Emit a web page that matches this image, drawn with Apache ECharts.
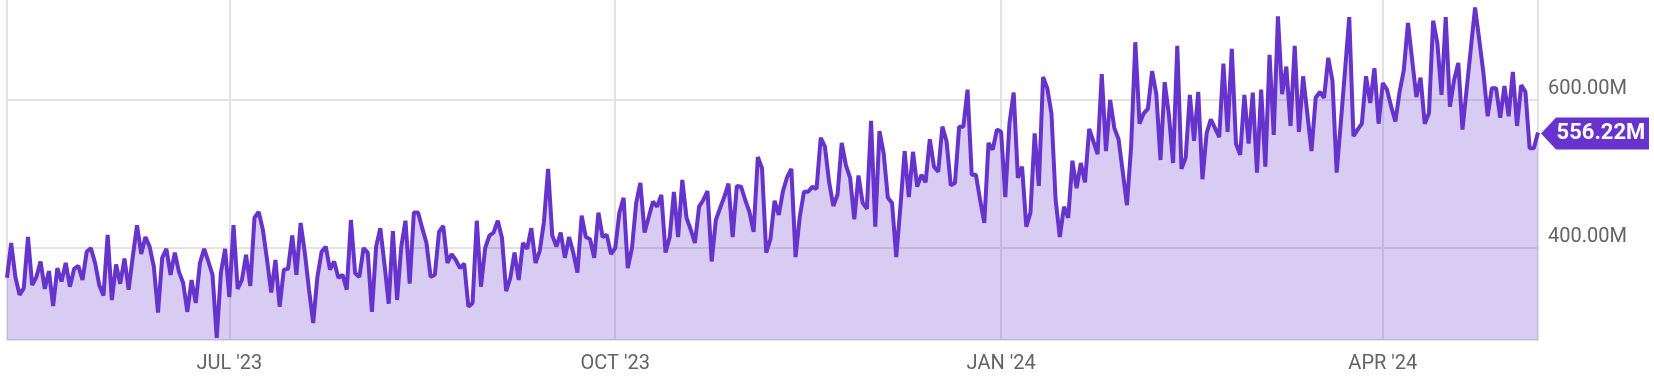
<!DOCTYPE html>
<html>
<head>
<meta charset="utf-8">
<script src="https://cdn.jsdelivr.net/npm/echarts@6/dist/echarts.min.js"></script>
<style>
html,body{margin:0;padding:0;background:#fff;}
#chart{width:1654px;height:382px;}
</style>
</head>
<body>
<div id="chart"></div>
<script>
// Daily values (millions), first day 2023-05-09
const startDate = '2023-05-09';
const vals2023MayJun = [360,407,361,337,346,415,350,361,382,345,369,322,373,355,380,348,372,376,357,395,400,380,350,336,418,330,378,352,386,344,389,431,392,415,402,375,313,387,399,364,394,368,353,314,357,326,380,399,382,364,279,367,399];
const vals2023Q3 = [334,431,345,357,391,349,441,449,425,384,340,384,321,371,372,417,364,434,394,344,299,361,395,402,371,382,360,364,344,438,366,361,400,394,314,402,427,378,325,423,330,402,437,352,448,448,427,407,361,364,422,430,380,392,384,373,379,321,326,437,348,400,417,421,437,414,342,360,394,357,407,399,427,380,396,435,507,417,402,421,387,415,394,367,444,415,412,387,448,415,418,392];
const vals2023Q4 = [400,448,468,373,400,461,488,421,442,463,456,472,394,415,476,415,492,441,425,407,456,465,477,382,438,454,469,487,415,484,483,465,449,422,523,508,394,412,464,445,477,496,507,388,442,476,476,483,480,549,537,489,457,472,542,512,495,439,498,461,453,572,429,558,528,468,461,388,456,531,469,530,483,499,489,547,510,503,564,544,485,488,564,564,614,499,499,465,434,542,533,560];
const vals2024Q1 = [557,469,569,610,495,510,429,448,555,484,631,616,582,465,415,456,441,518,481,515,489,561,544,527,635,531,600,562,547,503,458,537,678,568,582,588,639,608,519,624,580,515,673,507,522,607,545,611,493,555,574,562,550,649,557,669,541,526,607,541,610,502,614,510,661,553,713,608,645,565,673,557,632,582,531,603,611,603,657,626,502,570,640,712,551,560,568,632,596,643,568];
const vals2024AprMay = [623,614,591,571,611,640,704,654,604,630,568,582,707,677,607,712,591,627,650,560,615,670,725,681,636,578,616,616,576,619,578,638,565,620,611,535,535,556.22];

const tickDates = ['2023-07-01','2023-10-01','2024-01-01','2024-04-01'];
const tickLabels = ["JUL '23","OCT '23","JAN '24","APR '24"];
const yTickValues = [400, 600];

const values = [].concat(vals2023MayJun, vals2023Q3, vals2023Q4, vals2024Q1, vals2024AprMay);
const categories = [];
(function(){
  const d0 = new Date(startDate + 'T00:00:00Z');
  for (let i = 0; i < values.length; i++) {
    const d = new Date(d0.getTime() + i * 86400000);
    categories.push(d.toISOString().slice(0,10));
  }
})();
const lastIdx = values.length - 1;
const gridColor = '#e3e3e3';
const purple = '#6633cc';
const textColor = '#636363';

const chart = echarts.init(document.getElementById('chart'), null, {renderer:'canvas'});
chart.setOption({
  animation: false,
  grid: {left: 7, right: 116, top: 0, bottom: 42, containLabel: false},
  xAxis: {
    type: 'category',
    data: categories,
    boundaryGap: false,
    axisLine: {show: true, lineStyle: {color: gridColor, width: 2}},
    axisTick: {show: false},
    axisLabel: {
      interval: function(i, v){ return tickDates.indexOf(v) >= 0; },
      formatter: function(v){ const k = tickDates.indexOf(v); return k >= 0 ? tickLabels[k] : ''; },
      color: textColor, fontFamily: 'Roboto', fontSize: 20, margin: 14
    },
    splitLine: {
      show: true,
      interval: function(i, v){ return i === 0 || tickDates.indexOf(v) >= 0; },
      lineStyle: {color: gridColor, width: 2}
    }
  },
  yAxis: {
    type: 'value',
    position: 'right',
    min: 276, max: 735,
    axisLine: {show: true, lineStyle: {color: gridColor, width: 2}},
    axisTick: {show: false, customValues: yTickValues},
    axisLabel: {
      customValues: yTickValues,
      formatter: function(v){ return v.toFixed(2) + 'M'; },
      color: textColor, fontFamily: 'Roboto', fontSize: 20, margin: 10,
      verticalAlign: 'bottom', lineHeight: 22
    },
    splitLine: {show: true, lineStyle: {color: gridColor, width: 2}}
  },
  series: [{
    type: 'line',
    data: values,
    symbol: 'none',
    smooth: false,
    lineStyle: {color: purple, width: 4},
    areaStyle: {color: 'rgba(102,51,204,0.25)', opacity: 1, origin: 'start'},
    markPoint: {
      symbol: 'path://M0,16 L15,0 L108,0 L108,32 L15,32 Z',
      symbolSize: [108, 32],
      symbolOffset: [57, 1],
      itemStyle: {color: purple},
      label: {
        show: true, position: 'inside', offset: [6, 0],
        color: '#fff', fontWeight: 'bold', fontFamily: 'Roboto', fontSize: 22,
        formatter: function(p){ return Number(p.value).toFixed(2) + 'M'; }
      },
      data: [{coord: [lastIdx, values[lastIdx]], value: values[lastIdx]}]
    }
  }]
});
</script>
</body>
</html>
